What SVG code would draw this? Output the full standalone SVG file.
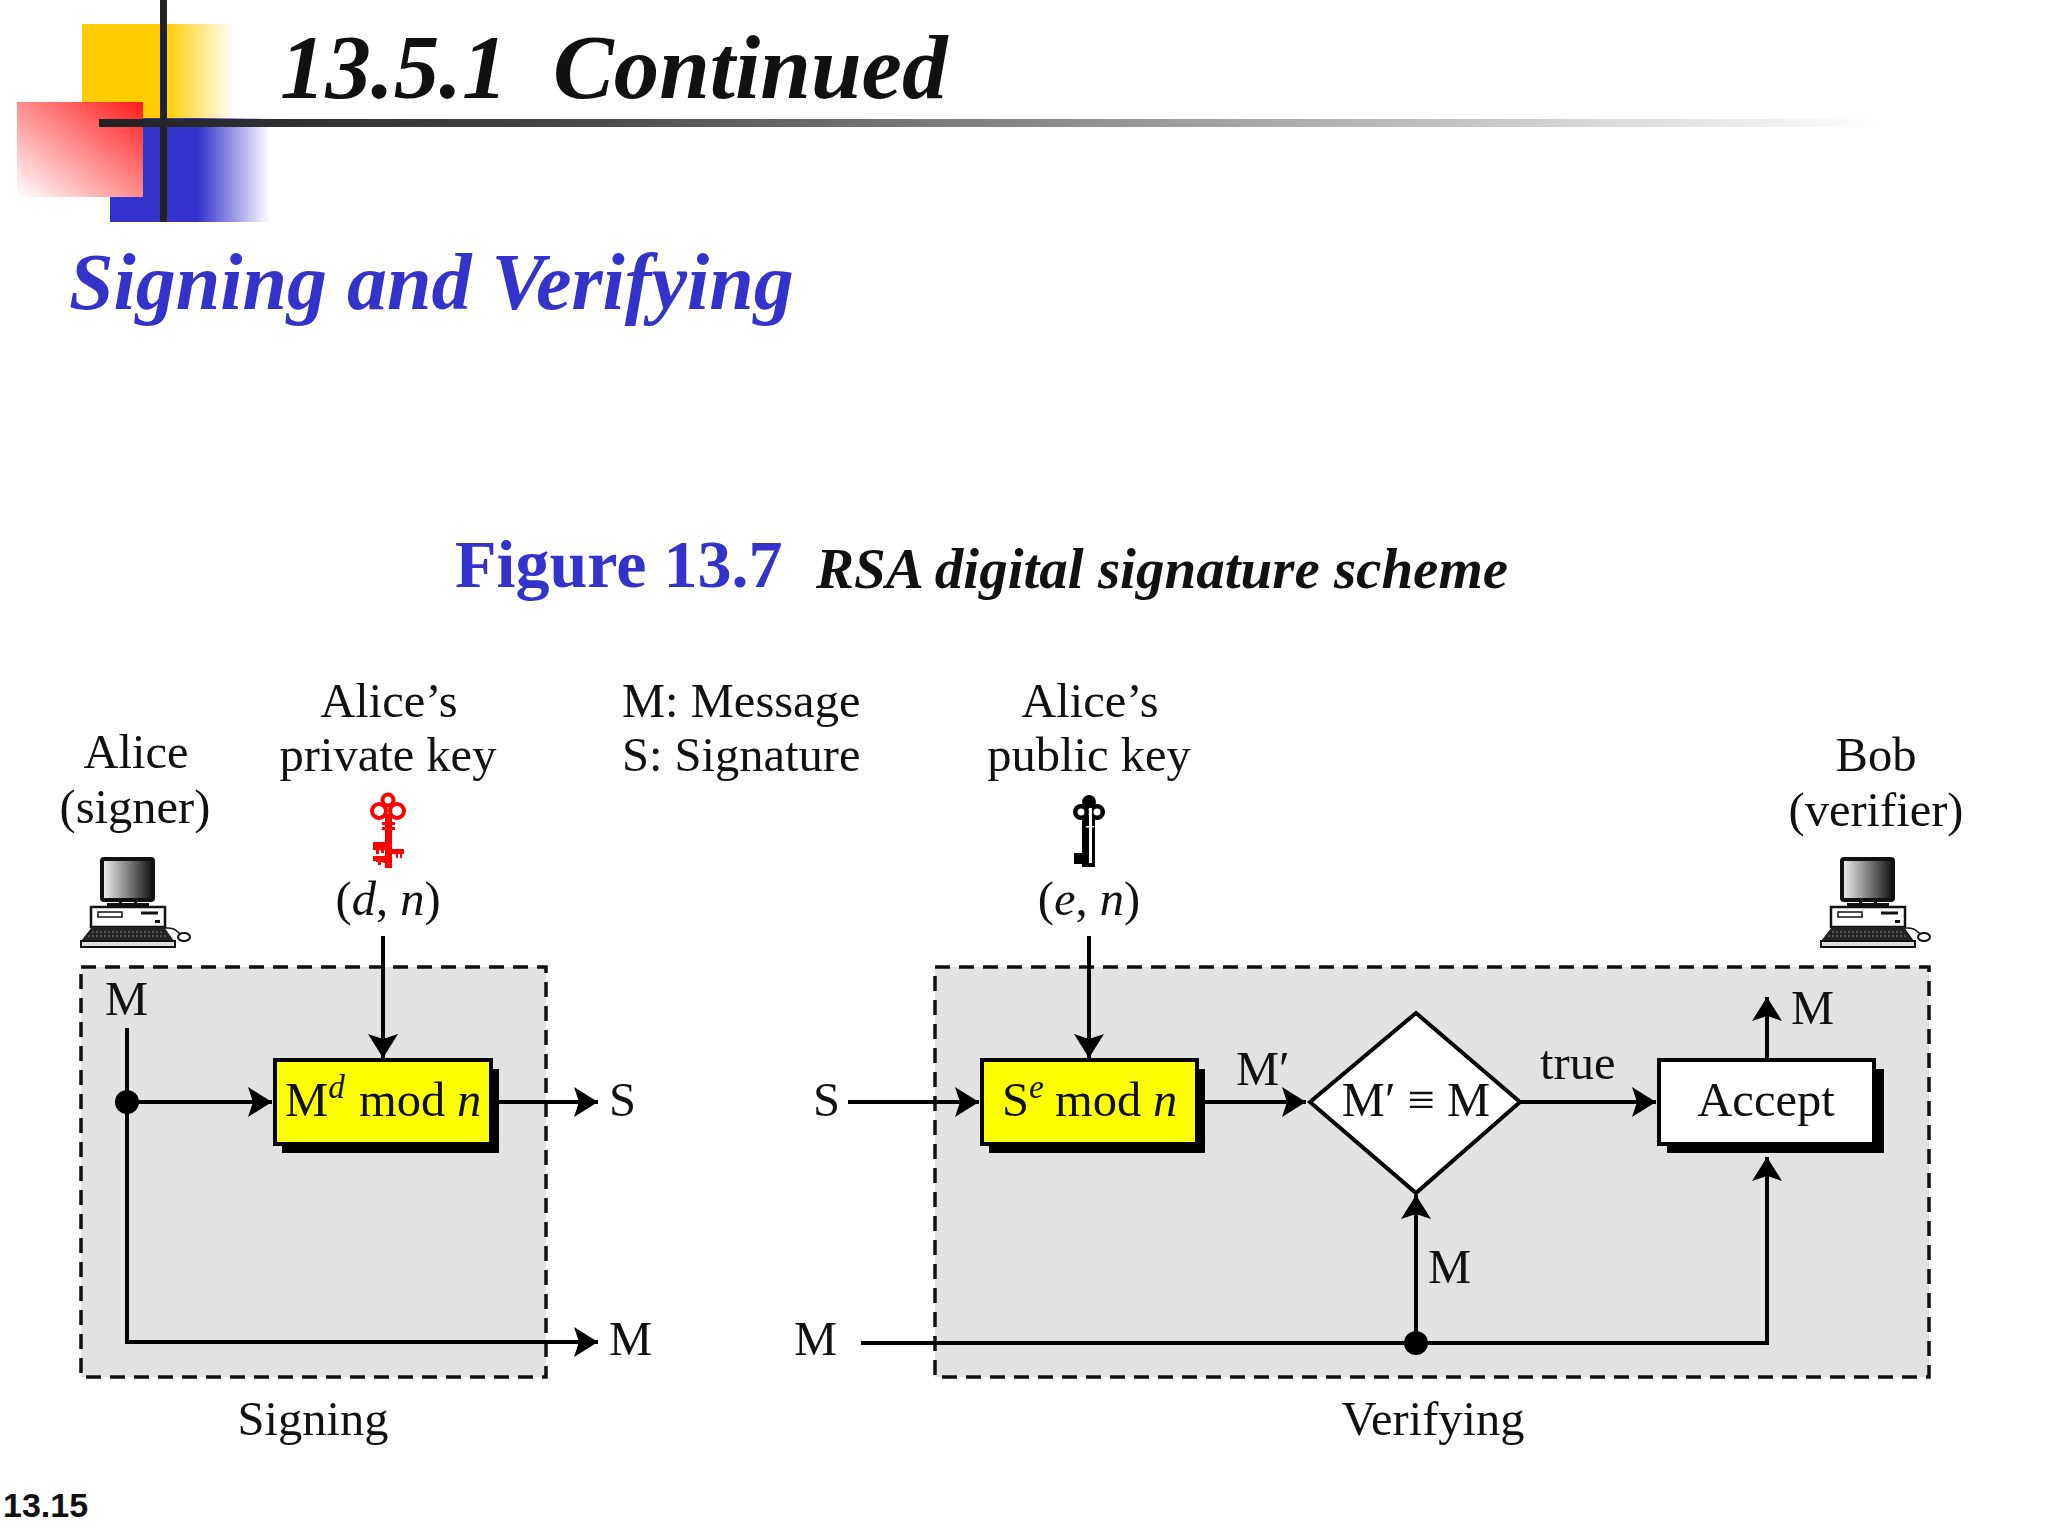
<svg xmlns="http://www.w3.org/2000/svg" xmlns:xlink="http://www.w3.org/1999/xlink" width="2048" height="1536" viewBox="0 0 2048 1536">
<style>
text{font-family:"Liberation Serif","Times New Roman",serif;fill:#111}
.l{font-size:48.500px;text-anchor:middle}
.s{font-size:48.500px}
.i{font-style:italic}
.c{fill:none;stroke:#000;stroke-width:4}
.d{fill:#e2e2e2;stroke:#111;stroke-width:3.500;stroke-dasharray:15 9}
.box{stroke:#000;stroke-width:4}
</style>
<defs>
<linearGradient id="gy" x1="0" x2="1" y1="0" y2="0"><stop offset="0.55" stop-color="#ffcc00"/><stop offset="1" stop-color="#ffcc00" stop-opacity="0"/></linearGradient>
<linearGradient id="gb" x1="0" x2="1" y1="0" y2="0"><stop offset="0.55" stop-color="#3333cc"/><stop offset="1" stop-color="#3333cc" stop-opacity="0"/></linearGradient>
<linearGradient id="gr" x1="1" x2="0" y1="0" y2="1"><stop offset="0" stop-color="#ff1a1a"/><stop offset="1" stop-color="#fff"/></linearGradient>
<linearGradient id="gl" x1="0" x2="1" y1="0" y2="0"><stop offset="0" stop-color="#222"/><stop offset="0.25" stop-color="#444"/><stop offset="1" stop-color="#444" stop-opacity="0"/></linearGradient>
<linearGradient id="gs" x1="0" x2="1" y1="0" y2="0"><stop offset="0" stop-color="#f4f4f4"/><stop offset="1" stop-color="#111"/></linearGradient>
<marker id="a" markerUnits="userSpaceOnUse" markerWidth="26" markerHeight="30" refX="24" refY="15" orient="auto"><path d="M0 0L24 15L0 30L5 15Z" fill="#000"/></marker>
<g id="pc">
<rect x="102" y="859" width="51" height="41" rx="2" fill="url(#gs)" stroke="#111" stroke-width="4"/>
<path d="M119 900h3v4h-3zM134 900h3v4h-3z" fill="#111"/>
<rect x="107" y="903" width="42" height="4" fill="#111"/>
<rect x="91" y="907" width="74" height="20" fill="#fff" stroke="#111" stroke-width="2.500"/>
<rect x="98" y="912" width="24" height="5" fill="#fff" stroke="#111" stroke-width="1.500"/>
<path d="M141 913h17" stroke="#111" stroke-width="3"/>
<rect x="155" y="920" width="5" height="3" fill="#111"/>
<path d="M92 927h72l10 14H81Z" fill="#222"/>
<path d="M92 932h72M88 936h80" stroke="#888" stroke-width="1" stroke-dasharray="2 2"/>
<rect x="81" y="941" width="94" height="6" fill="#ddd" stroke="#111" stroke-width="2"/>
<path d="M165 928c10-1 12 4 18 8" fill="none" stroke="#111" stroke-width="1.500"/>
<ellipse cx="184" cy="937" rx="6" ry="4" fill="#fff" stroke="#111" stroke-width="2"/>
</g>
</defs>

<g id="logo">
<rect x="82" y="24" width="152" height="95" fill="url(#gy)"/>
<rect x="110" y="118" width="160" height="104" fill="url(#gb)"/>
<rect x="17" y="102" width="126" height="95" fill="url(#gr)"/>
<rect x="160" y="0" width="7" height="222" fill="#222"/>
<rect x="99" y="119" width="1780" height="8" fill="url(#gl)"/>
</g>

<text x="280" y="98" font-size="91" font-weight="bold" class="i">13.5.1</text>
<text x="553" y="98" font-size="91" font-weight="bold" class="i">Continued</text>
<text x="69" y="309" font-size="80" font-weight="bold" class="i" style="fill:#3333cc">Signing and Verifying</text>
<text x="455" y="587" font-size="68" font-weight="bold" style="fill:#3333cc">Figure 13.7</text>
<text x="816" y="588" font-size="57" font-weight="bold" class="i">RSA digital signature scheme</text>

<g id="signing-region"><rect x="81" y="967" width="465" height="410" class="d"/></g>
<g id="verifying-region"><rect x="935" y="967" width="994" height="410" class="d"/></g>

<g id="connectors">
<path class="c" d="M383 936V1058" marker-end="url(#a)"/>
<path class="c" d="M127 1028V1342H598" marker-end="url(#a)"/>
<path class="c" d="M127 1102H272" marker-end="url(#a)"/>
<path class="c" d="M498 1102H598" marker-end="url(#a)"/>
<path class="c" d="M848 1102H979" marker-end="url(#a)"/>
<path class="c" d="M1089 936V1058" marker-end="url(#a)"/>
<path class="c" d="M1205 1102H1306" marker-end="url(#a)"/>
<path class="c" d="M1520 1102H1656" marker-end="url(#a)"/>
<path class="c" d="M1767 1060V997" marker-end="url(#a)"/>
<path class="c" d="M861 1343H1767V1157" marker-end="url(#a)"/>
<path class="c" d="M1416 1343V1195" marker-end="url(#a)"/>
<circle cx="127" cy="1102" r="12" fill="#000"/>
<circle cx="1416" cy="1343" r="12" fill="#000"/>
</g>

<g id="sign-box">
<rect x="282" y="1069" width="217" height="84" fill="#000"/>
<rect x="275" y="1060" width="216" height="84" fill="#ffff00" class="box"/>
<text x="285" y="1116" class="s">M<tspan class="i" font-size="33" dy="-18">d</tspan><tspan dy="18" x="359">mod</tspan><tspan class="i" x="457">n</tspan></text>
</g>
<g id="verify-box">
<rect x="989" y="1069" width="216" height="84" fill="#000"/>
<rect x="982" y="1060" width="215" height="84" fill="#ffff00" class="box"/>
<text x="1002" y="1116" class="s">S<tspan class="i" font-size="33" dy="-18">e</tspan><tspan dy="18" x="1055">mod</tspan><tspan class="i" x="1153">n</tspan></text>
</g>
<g id="compare">
<path d="M1416 1013L1520 1102L1416 1193L1310 1102Z" fill="#fff" class="box"/>
<text x="1416" y="1116" class="l">M′ ≡ M</text>
</g>
<g id="accept">
<rect x="1667" y="1069" width="217" height="84" fill="#000"/>
<rect x="1659" y="1060" width="215" height="84" fill="#fff" class="box"/>
<text x="1766" y="1116" class="l">Accept</text>
</g>

<g id="labels">
<text x="136" y="768" class="l">Alice</text>
<text x="135" y="823" class="l">(signer)</text>
<text x="389" y="717" class="l">Alice’s</text>
<text x="388" y="771" class="l">private key</text>
<text x="622" y="717" class="s">M: Message</text>
<text x="622" y="771" class="s">S: Signature</text>
<text x="1090" y="717" class="l">Alice’s</text>
<text x="1089" y="771" class="l">public key</text>
<text x="1876" y="771" class="l">Bob</text>
<text x="1876" y="826" class="l">(verifier)</text>
<text x="388" y="915" class="l">(<tspan class="i">d</tspan>, <tspan class="i">n</tspan>)</text>
<text x="1089" y="915" class="l">(<tspan class="i">e</tspan>, <tspan class="i">n</tspan>)</text>
<text x="105" y="1015" class="s">M</text>
<text x="609" y="1116" class="s">S</text>
<text x="609" y="1355" class="s">M</text>
<text x="813" y="1116" class="s">S</text>
<text x="794" y="1355" class="s">M</text>
<text x="1236" y="1085" class="s">M′</text>
<text x="1540" y="1079" class="s">true</text>
<text x="1791" y="1024" class="s">M</text>
<text x="1428" y="1283" class="s">M</text>
<text x="313" y="1435" class="l">Signing</text>
<text x="1433" y="1435" class="l">Verifying</text>
<text x="3" y="1517" font-size="34" font-weight="bold" style="font-family:'Liberation Sans',sans-serif">13.15</text>
</g>

<g id="key-red" fill="#ff0000" stroke="none">
<g fill="none" stroke="#ff0000" stroke-width="4"><circle cx="388" cy="800" r="5.500"/><circle cx="379" cy="811" r="7"/><circle cx="397" cy="811" r="7"/></g>
<rect x="385" y="814" width="7" height="54"/>
<rect x="382" y="822" width="13" height="3"/><rect x="382" y="827" width="13" height="3"/>
<path d="M373 842h13v8h-2v3h-3v-3h-2v4h-3v-4h-3ZM373 856h13v7h-3v-1h-2v3h-3v-3h-2v-1h-3ZM392 849h12v5h-2v4h-2v-4h-2v4h-2v-4h-4Z"/>
</g>
<g id="key-black" fill="#000">
<circle cx="1089" cy="802" r="7"/><circle cx="1081" cy="812" r="8"/><circle cx="1097" cy="812" r="8"/>
<rect x="1082" y="815" width="13" height="52"/>
<rect x="1074" y="853" width="13" height="11"/>
<rect x="1089" y="808" width="3" height="55" fill="#fff"/>
<rect x="1086" y="826" width="8" height="1.500" fill="#fff"/>
<circle cx="1081" cy="812" r="3.500" fill="#fff"/><circle cx="1097" cy="812" r="3.500" fill="#fff"/>
</g>
<g id="pc-alice"><use href="#pc" xlink:href="#pc"/></g>
<g id="pc-bob"><use href="#pc" xlink:href="#pc" transform="translate(1740 0)"/></g>
</svg>
